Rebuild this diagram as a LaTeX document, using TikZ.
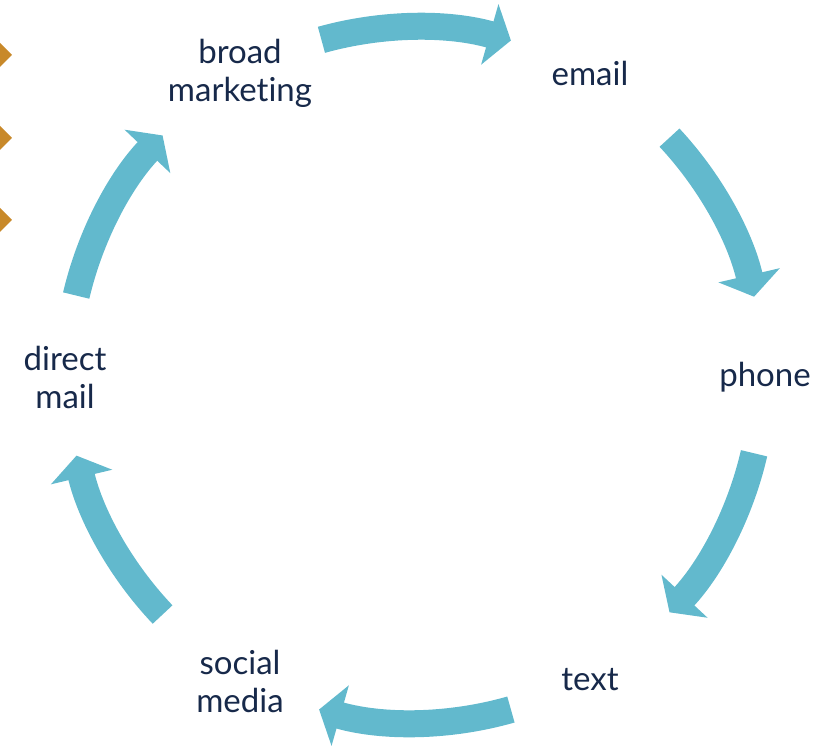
\documentclass[tikz,border=0pt]{standalone}
\usepackage{fontspec}
\setmainfont{Lato}[Ligatures=NoCommon]
\usetikzlibrary{arrows.meta}
\definecolor{cycleblue}{HTML}{62B9CD}
\definecolor{labelnavy}{HTML}{17294A}
\definecolor{bulletgold}{HTML}{C8892A}
\tikzset{every picture/.style={line width=0.75pt}}
\tikzset{
	stage/.style={text=labelnavy,align=center,font=\fontsize{33}{38}\selectfont},
	cyclearrow/.style={cycleblue,line width=27pt,-{Triangle[width=62pt,length=22pt]}}
}

\begin{document}
\begin{tikzpicture}[x=1pt,y=1pt]
			\useasboundingbox (-415,-371) rectangle (407,375);
			% bullets cut at the left edge
			\fill[bulletgold] (-415,332) -- (-403,320) -- (-415,308) -- cycle;
			\fill[bulletgold] (-415,249) -- (-403,237) -- (-415,225) -- cycle;
			\fill[bulletgold] (-415,167) -- (-403,155) -- (-415,143) -- cycle;
			% stages
			\node [stage] (broad) at (-175,302) {broad\\marketing};
			\node [stage] (email) at (175,302) {email};
			\node [stage] (phone) at (350,-2) {phone};
			\node [stage] (text) at (175,-305) {text};
			\node [stage] (social) at (-175,-306) {social\\media};
			\node [stage] (direct) at (-350,-2) {direct\\mail};
			% arrows round the cycle
			\coordinate (a1) at (105.6:348);
			\coordinate (a2) at (43:348);
			\coordinate (a3) at (-13:348);
			\coordinate (a4) at (-74:348);
			\coordinate (a5) at (-136.5:348);
			\coordinate (a6) at (166.8:348);
			\draw [cyclearrow] (a1) arc [start angle=105.6,end angle=74,radius=348];
			\draw [cyclearrow] (a2) arc [start angle=43,end angle=13,radius=348];
			\draw [cyclearrow] (a3) arc [start angle=-13,end angle=-43,radius=348];
			\draw [cyclearrow] (a4) arc [start angle=-74,end angle=-106,radius=348];
			\draw [cyclearrow] (a5) arc [start angle=-136.5,end angle=-166.6,radius=348];
			\draw [cyclearrow] (a6) arc [start angle=166.8,end angle=136.5,radius=348];
		\end{tikzpicture}
\end{document}
